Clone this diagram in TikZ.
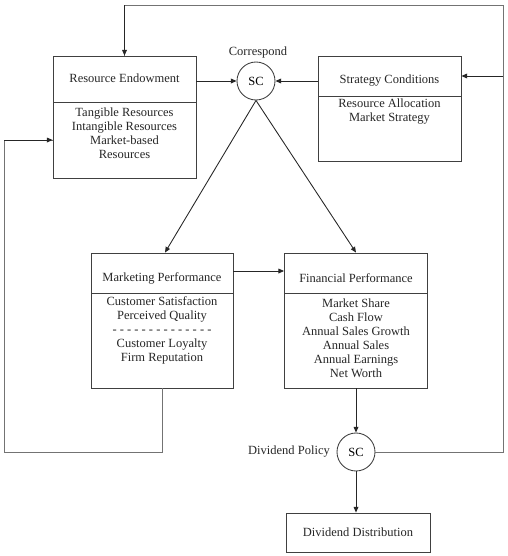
\documentclass[tikz,border=0pt]{standalone}
\usepackage{fontspec}
\setmainfont{Liberation Serif}
\usetikzlibrary{arrows.meta}

\begin{document}
\begin{tikzpicture}[x=0.8pt, y=-0.8pt,
  every node/.style={font=\fontsize{10}{11.2}\selectfont, inner sep=0pt},
  box/.style={draw=black!75, line width=0.7pt, minimum width=114.4pt},
  txt/.style={align=center, text=black!85},
  sccirc/.style={draw=black!75, line width=0.7pt, circle, minimum size=30.4pt},
  arr/.style={draw=black!85, line width=0.7pt, -{Triangle[length=4.5pt,width=3.8pt]}},
  fb/.style={draw=black!55, line width=0.8pt}]
\useasboundingbox (0,0) rectangle (508,556);
% Resource Endowment
\node[box, minimum height=36.8pt] (retitle) at (124.5,79) {};
\node[box, minimum height=60.8pt] (rebody) at (124.5,140) {};
\node[txt] (retext) at (124.5,78) {Resource Endowment};
\node[txt] (reitems) at (124.5,133.5) {Tangible Resources\\Intangible Resources\\Market-based\\Resources};
% Strategy Conditions
\node[box, minimum height=32pt] (sttitle) at (389.5,76) {};
\node[box, minimum height=52pt] (stbody) at (389.5,128.5) {};
\node[txt] (sttext) at (389.5,81) {Strategy Conditions};
\node[txt] (stitems) at (389.5,112) {Resource Allocation\\Market Strategy};
% SC (Correspond)
\node[sccirc] (sc) at (256,81) {SC};
\node[txt] (corr) at (258,52) {Correspond};
% Marketing Performance
\node[box, minimum width=113.6pt, minimum height=32pt] (mptitle) at (162,273) {};
\node[box, minimum width=113.6pt, minimum height=76pt] (mpbody) at (162,340.5) {};
\node[txt] (mptext) at (162,278) {Marketing Performance};
\node[txt] (mpitems) at (162,330.5) {Customer Satisfaction\\Perceived Quality\\- - - - - - - - - - - - - -\\Customer Loyalty\\Firm Reputation};
% Financial Performance
\node[box, minimum height=32pt] (fptitle) at (356,273) {};
\node[box, minimum height=76pt] (fpbody) at (356,340.5) {};
\node[txt] (fptext) at (356,278) {Financial Performance};
\node[txt] (fpitems) at (356,338) {Market Share\\Cash Flow\\Annual Sales Growth\\Annual Sales\\Annual Earnings\\Net Worth};
% Dividend Policy / Distribution
\node[sccirc] (dp) at (356,452) {SC};
\node[txt] (dptext) at (289,452) {Dividend Policy};
\node[box, minimum width=115.2pt, minimum height=31.2pt, txt] (dd) at (358,532.5) {Dividend Distribution};
\coordinate (topright) at (503,5);
\coordinate (leftpt) at (4,452);
% Arrows
\draw[arr] (sc.west -| retitle.east) -- (sc.west);
\draw[arr] (sc.east -| sttitle.west) -- (sc.east);
\draw[arr] (sc.south) -- ([xshift=2.4pt]mptitle.north);
\draw[arr] (sc.south) -- (fptitle.north);
\draw[arr] ([yshift=1.6pt]mptitle.east) -- ([yshift=1.6pt]fptitle.west);
\draw[arr] (fpbody.south) -- (dp.north);
\draw[arr] (dp.south) -- (dp.south |- dd.north);
% Feedback
\draw[fb] (dp.east) -| (topright) -| (retitle.north);
\draw[fb] (mpbody.south) |- (leftpt) |- (rebody.west);
\draw[arr] (topright |- sttitle.east) -- (sttitle.east);
\draw[arr] (topright -| retitle.north) -- (retitle.north);
\draw[arr] (leftpt |- rebody.west) -- (rebody.west);
\end{tikzpicture}
\end{document}
